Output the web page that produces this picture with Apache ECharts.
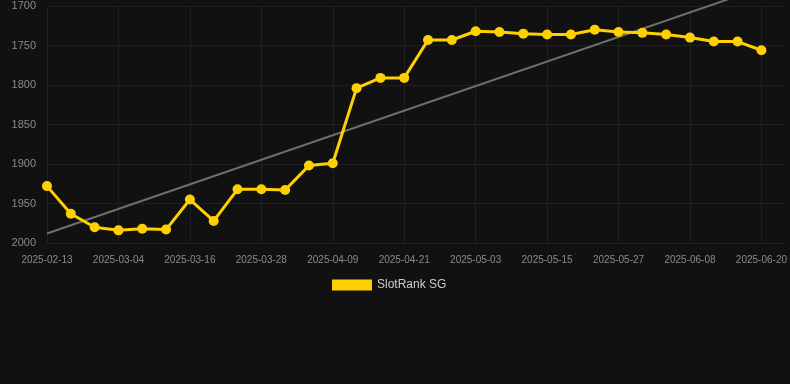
<!DOCTYPE html>
<html lang="en">
<head>
    <meta charset="UTF-8" />
    <title>SlotRank SG</title>
    <script src="https://cdn.jsdelivr.net/npm/echarts@6/dist/echarts.min.js"></script>
    <style>
        html, body { margin: 0; padding: 0; background: #111111; }
    </style>
</head>
<body>
    <div id="chart" style="width: 790px; height: 384px"></div>
    <script>
        // dates (last one is an empty slot at the right edge)
        var dates = [
            "2025-02-13", "2025-02-20", "2025-02-26", "2025-03-04", "2025-03-08", "2025-03-12",
            "2025-03-16", "2025-03-20", "2025-03-24", "2025-03-28", "2025-04-01", "2025-04-05",
            "2025-04-09", "2025-04-13", "2025-04-17", "2025-04-21", "2025-04-25", "2025-04-29",
            "2025-05-03", "2025-05-07", "2025-05-11", "2025-05-15", "2025-05-19", "2025-05-23",
            "2025-05-27", "2025-05-31", "2025-06-04", "2025-06-08", "2025-06-12", "2025-06-16",
            "2025-06-20", "2025-06-24"
        ];
        var rankValues = [
            1928, 1963, 1980, 1984, 1982, 1983, 1945, 1972, 1932, 1932, 1933, 1902,
            1899, 1804, 1791, 1791, 1743, 1743, 1732, 1733, 1735, 1736, 1736, 1730,
            1733, 1734, 1736, 1740, 1745, 1745, 1756
        ];
        // trend line: only the two end points, joined
        var trendStart = 1988;
        var trendEnd = 1677;
        var trendValues = [trendStart];
        for (var i = 1; i < 30; i++) trendValues.push(null);
        trendValues.push(trendEnd);

        var font = "'Liberation Sans', Arial, sans-serif";
        var chart = echarts.init(document.getElementById("chart"));

        var option = {
            backgroundColor: "#111111",
            animation: false,
            textStyle: { fontFamily: font },
            grid: { left: 47, right: 4, top: 6, bottom: 141, containLabel: false },
            legend: {
                left: 327,
                top: 274,
                itemWidth: 40,
                itemHeight: 11,
                icon: "rect",
                data: ["SlotRank SG"],
                textStyle: { color: "#cccccc", fontSize: 12, fontFamily: font }
            },
            xAxis: {
                type: "category",
                data: dates,
                boundaryGap: false,
                axisLine: { show: false },
                axisTick: { show: false, interval: 2 },
                axisLabel: { interval: 2, color: "#8a8a8a", fontSize: 10, margin: 12, fontFamily: font },
                splitLine: { show: true, interval: 2, lineStyle: { color: "#1f1f1f", width: 1 } }
            },
            yAxis: {
                type: "value",
                inverse: true,
                min: 1700,
                max: 2000,
                interval: 50,
                axisLine: { show: false },
                axisTick: { show: false },
                axisLabel: {
                    color: "#8a8a8a", fontSize: 11, margin: 11, fontFamily: font,
                    formatter: function (v) { return String(v); }
                },
                splitLine: { lineStyle: { color: "#1f1f1f", width: 1 } }
            },
            series: [
                {
                    name: "trend",
                    type: "line",
                    data: trendValues,
                    connectNulls: true,
                    clip: false,
                    showSymbol: false,
                    symbol: "none",
                    silent: true,
                    lineStyle: { color: "#6e6e6e", width: 2 },
                    z: 1
                },
                {
                    name: "SlotRank SG",
                    type: "line",
                    data: rankValues,
                    symbol: "circle",
                    symbolSize: 10,
                    itemStyle: { color: "#ffd000" },
                    lineStyle: { color: "#ffd000", width: 3 },
                    z: 3
                }
            ]
        };
        chart.setOption(option);
    </script>
</body>
</html>
